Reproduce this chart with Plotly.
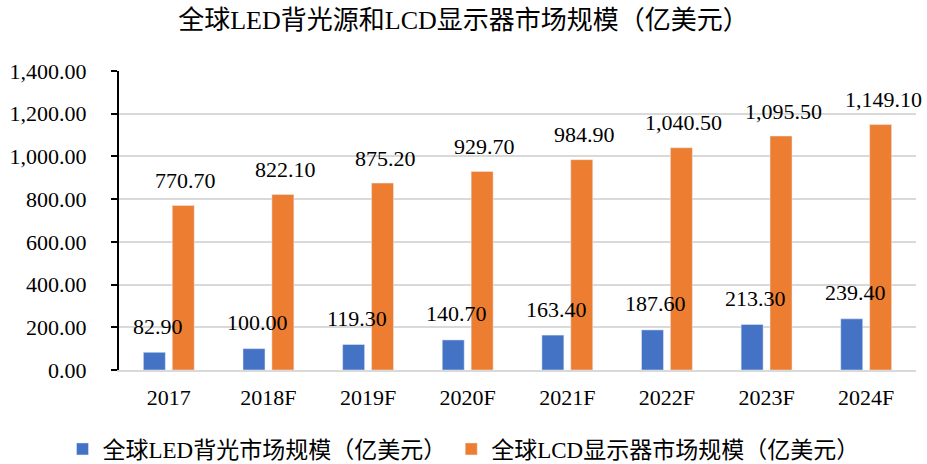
import plotly.graph_objects as go

categories = ["2017", "2018F", "2019F", "2020F", "2021F", "2022F", "2023F", "2024F"]
led_values = [82.9, 100.0, 119.3, 140.7, 163.4, 187.6, 213.3, 239.4]
lcd_values = [770.7, 822.1, 875.2, 929.7, 984.9, 1040.5, 1095.5, 1149.1]
led_name = "全球LED背光市场规模（亿美元）"
lcd_name = "全球LCD显示器市场规模（亿美元）"
title_text = "全球LED背光源和LCD显示器市场规模（亿美元）"

FONT = "Liberation Serif, Times New Roman, Noto Sans CJK SC, serif"
BLUE = "#4472C4"
ORANGE = "#ED7D31"

fig = go.Figure()
fig.add_trace(go.Bar(x=categories, y=led_values, name=led_name, marker_color=BLUE))
fig.add_trace(go.Bar(x=categories, y=lcd_values, name=lcd_name, marker_color=ORANGE))

annotations = []
for i, v in enumerate(led_values):
    annotations.append(dict(x=i, y=v, xref="x", yref="y", text=f"{v:,.2f}", showarrow=False,
                            xshift=-11, yshift=26, yanchor="middle",
                            font=dict(family=FONT, size=22, color="#000000")))
for i, v in enumerate(lcd_values):
    annotations.append(dict(x=i, y=v, xref="x", yref="y", text=f"{v:,.2f}", showarrow=False,
                            xshift=17, yshift=25, yanchor="middle",
                            font=dict(family=FONT, size=22, color="#000000")))

fig.update_layout(
    width=927, height=464,
    margin=dict(l=119, r=11, t=71, b=94, autoexpand=False),
    paper_bgcolor="white", plot_bgcolor="white",
    font=dict(family=FONT, size=22, color="#000000"),
    title=dict(text=title_text, x=0.5, xref="container", xanchor="center",
               y=1 - 20 / 464, yref="container", yanchor="middle",
               font=dict(family=FONT, size=26, color="#000000")),
    barmode="group", bargap=0.42, bargroupgap=0.24,
    showlegend=True,
    legend=dict(orientation="h", xref="container", x=0.5, xanchor="center",
                yref="container", y=1 - 449 / 464, yanchor="middle",
                font=dict(family=FONT, size=23, color="#000000"),
                itemwidth=30, traceorder="normal"),
    annotations=annotations,
)
fig.update_yaxes(range=[0, 1400], dtick=200, tickformat=",.2f", automargin=False,
                 showline=True, linecolor="#000000", linewidth=2,
                 ticks="outside", ticklen=6, tickwidth=2, tickcolor="#000000",
                 ticklabelstandoff=20,
                 showgrid=True, gridcolor="#d9d9d9", gridwidth=1.5,
                 zeroline=False, tickfont=dict(family=FONT, size=22))
fig.update_xaxes(type="category", range=[-0.5, len(categories) - 0.5], automargin=False,
                 showline=True, linecolor="#d9d9d9", linewidth=1.5,
                 ticks="", ticklabelstandoff=7, tickfont=dict(family=FONT, size=22))

fig.write_html("out.html", config={"displayModeBar": False},
               post_script="document.body.style.margin='0';")
